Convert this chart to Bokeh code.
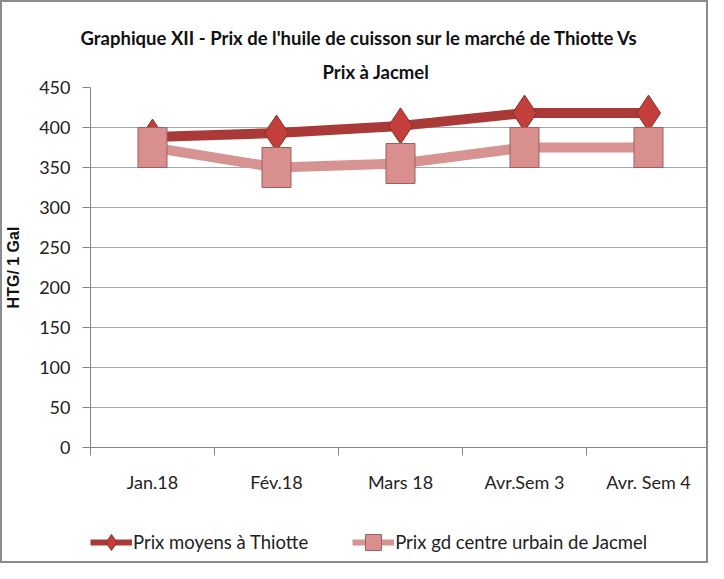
from bokeh.plotting import figure
from bokeh.layouts import column
from bokeh.models import (Range1d, FixedTicker, Legend, LegendItem, Title,
                          ColumnDataSource)
from bokeh.embed import file_html
from bokeh.resources import INLINE

# ---- data ----
categories = ["Jan.18", "Fév.18", "Mars 18", "Avr.Sem 3", "Avr. Sem 4"]
thiotte = [388, 393, 402, 418, 418]
jacmel = [375, 350, 355, 375, 375]
y_ticks = [0, 50, 100, 150, 200, 250, 300, 350, 400, 450]
series_names = ["Prix moyens à Thiotte", "Prix gd centre urbain de Jacmel"]

FONT = "Lato"
BORDER = "2px solid #8c8c8c"

xpos = [i + 0.5 for i in range(len(categories))]
src = ColumnDataSource(dict(x=xpos, thiotte=thiotte, jacmel=jacmel))

p = figure(width=708, height=500, output_backend="svg", toolbar_location=None,
           x_range=Range1d(0, len(categories)), y_range=Range1d(0, 450),
           min_border_left=82, min_border_right=0, min_border_top=85,
           min_border_bottom=55)
p.styles = {"border-top": BORDER, "border-left": BORDER, "border-right": BORDER,
            "box-sizing": "border-box"}
p.outline_line_color = None
p.background_fill_color = "white"

# titles
t2 = Title(text="Prix à Jacmel", align="left", offset=232,
           text_font=FONT, text_font_size="18.5px", text_font_style="bold",
           text_color="#111111")
t1 = Title(text="Graphique XII - Prix de l'huile de cuisson sur le marché de Thiotte Vs",
           align="left", offset=-10, text_font=FONT, text_font_size="18.5px",
           text_font_style="bold", text_color="#111111")
p.add_layout(t2, "above")
p.add_layout(t1, "above")

# axes
p.xaxis.ticker = FixedTicker(ticks=xpos, minor_ticks=list(range(len(categories) + 1)))
p.xaxis.major_label_overrides = {x: c for x, c in zip(xpos, categories)}
p.xaxis.major_tick_out = 0
p.xaxis.major_tick_in = 0
p.xaxis.minor_tick_out = 8
p.xaxis.minor_tick_in = 0
p.xaxis.minor_tick_line_color = "#868686"
p.xaxis.axis_line_color = "#868686"
p.xaxis.major_label_standoff = 15
p.xaxis.major_label_text_font = FONT
p.xaxis.major_label_text_font_size = "18px"
p.xaxis.major_label_text_color = "#222222"

p.yaxis.ticker = FixedTicker(ticks=y_ticks, minor_ticks=[])
p.yaxis.major_tick_out = 8
p.yaxis.major_tick_in = 0
p.yaxis.major_tick_line_color = "#868686"
p.yaxis.axis_line_color = "#868686"
p.yaxis.major_label_standoff = 12
p.yaxis.major_label_text_font = FONT
p.yaxis.major_label_text_font_size = "18px"
p.yaxis.major_label_text_color = "#222222"
p.yaxis.axis_label = "HTG/ 1 Gal"
p.yaxis.axis_label_text_font = "Liberation Sans"
p.yaxis.axis_label_text_font_style = "bold"
p.yaxis.axis_label_text_font_size = "16px"
p.yaxis.axis_label_text_color = "#111111"
p.yaxis.axis_label_standoff = 14

p.xgrid.grid_line_color = None
p.ygrid.ticker = FixedTicker(ticks=y_ticks)
p.ygrid.grid_line_color = "#a6a6a6"
p.ygrid.grid_line_width = 1

# series
c_th_line = "#a93a37"
c_th_fill = "#c43e3b"
c_th_edge = "#8a2b29"
c_ja_line = "#d69392"
c_ja_fill = "#d88f8e"
c_ja_edge = "#9e5f5d"

p.line("x", "thiotte", source=src, line_color=c_th_line, line_width=10)
p.scatter("x", "thiotte", source=src, marker="diamond", size=36,
          fill_color=c_th_fill, line_color=c_th_edge, line_width=1)
p.line("x", "jacmel", source=src, line_color=c_ja_line, line_width=10)
p.rect("x", "jacmel", source=src, width=29, height=40, width_units="screen",
       height_units="screen", fill_color=c_ja_fill, line_color=c_ja_edge,
       line_width=1)

# legend strip (separate figure so the legend is not clipped); the series
# are drawn there too but fall outside its range, only their legend shows
pl = figure(width=708, height=63, output_backend="svg", toolbar_location=None,
            x_range=Range1d(0, 1), y_range=Range1d(0, 1),
            x_axis_location=None, y_axis_location=None,
            min_border_left=0, min_border_right=0, min_border_top=0,
            min_border_bottom=0)
pl.styles = {"border-bottom": BORDER, "border-left": BORDER,
             "border-right": BORDER, "box-sizing": "border-box"}
pl.outline_line_color = None
pl.xgrid.visible = False
pl.ygrid.visible = False

lp1 = pl.line("x", "thiotte", source=src, line_color=c_th_line, line_width=6)
mp1 = pl.scatter("x", "thiotte", source=src, marker="diamond",
                 fill_color=c_th_fill, line_color=c_th_edge)
lp2 = pl.line("x", "jacmel", source=src, line_color=c_ja_line, line_width=6)
mp2 = pl.scatter("x", "jacmel", source=src, marker="square",
                 fill_color=c_ja_fill, line_color=c_ja_edge)

legend = Legend(items=[
    LegendItem(label=series_names[0], renderers=[lp1, mp1]),
    LegendItem(label=series_names[1], renderers=[lp2, mp2]),
], orientation="horizontal", location=(0, 1),
    glyph_width=42, glyph_height=40, label_standoff=1, spacing=44,
    padding=0, margin=0, border_line_color=None, background_fill_alpha=0,
    label_text_font=FONT, label_text_font_size="18.5px",
    label_text_color="#222222")
pl.add_layout(legend, "center")

layout = column(p, pl, spacing=0)
open("out.html", "w").write(file_html(layout, INLINE))
